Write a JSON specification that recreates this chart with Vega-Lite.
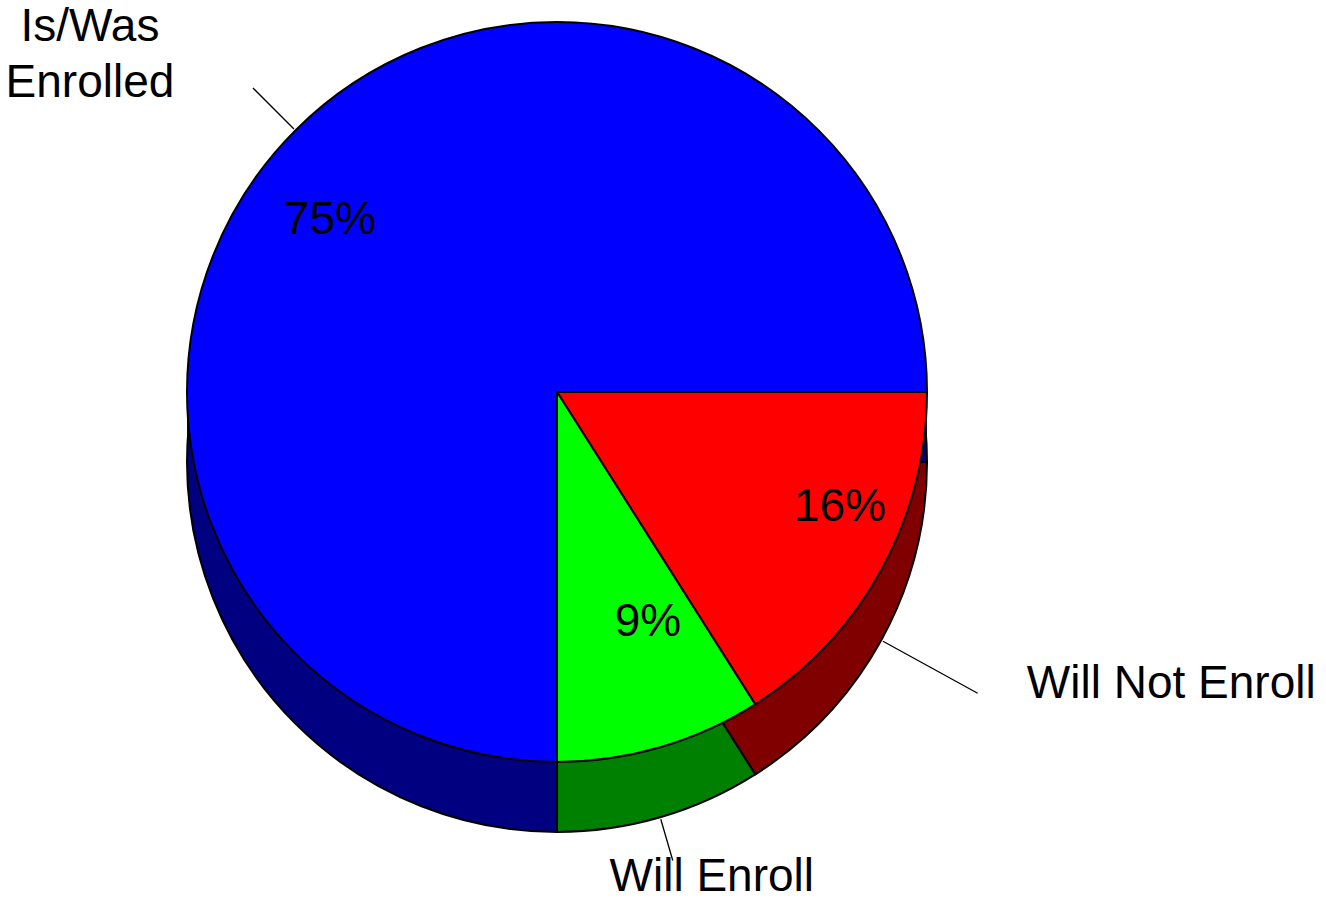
{
  "$schema": "https://vega.github.io/schema/vega-lite/v6.json",
  "width": 1114,
  "height": 784,
  "autosize": {"type": "none"},
  "padding": {"left": 0, "top": 0, "right": 212, "bottom": 117},
  "background": "white",
  "config": {"view": {"stroke": null}, "text": {"font": "Liberation Sans", "fontSize": 46, "fill": "black"}},
  "data": {"values": [
    {"cat": "Will Not Enroll", "value": 16, "order": 1, "pct": "16%"},
    {"cat": "Will Enroll", "value": 9, "order": 2, "pct": "9%"},
    {"cat": "Is/Was Enrolled", "value": 75, "order": 3, "pct": "75%"}
  ]},
  "transform": [
    {"window": [{"op": "sum", "field": "value", "as": "cum"}], "sort": [{"field": "order"}], "frame": [null, 0]},
    {"calculate": "datum.cum - datum.value", "as": "start"},
    {"calculate": "datum.cum - datum.value / 2", "as": "mid"}
  ],
  "layer": [
    {"mark": {"type": "arc", "outerRadius": 370, "yOffset": 18},
     "encoding": {
       "theta": {"field": "start", "type": "quantitative", "scale": {"domain": [0, 100], "range": [1.5708, 7.854]}},
       "theta2": {"field": "cum"},
       "fill": {"field": "cat", "type": "nominal", "scale": {"domain": ["Is/Was Enrolled", "Will Not Enroll", "Will Enroll"], "range": ["#000080", "#800000", "#008000"]}, "legend": null}}},
    {"mark": {"type": "arc", "outerRadius": 370, "yOffset": 35},
     "encoding": {
       "theta": {"field": "start", "type": "quantitative", "scale": {"domain": [0, 100], "range": [1.5708, 7.854]}},
       "theta2": {"field": "cum"},
       "fill": {"field": "cat", "type": "nominal", "scale": {"domain": ["Is/Was Enrolled", "Will Not Enroll", "Will Enroll"], "range": ["#000080", "#800000", "#008000"]}, "legend": null}}},
    {"mark": {"type": "arc", "outerRadius": 370, "yOffset": 52},
     "encoding": {
       "theta": {"field": "start", "type": "quantitative", "scale": {"domain": [0, 100], "range": [1.5708, 7.854]}},
       "theta2": {"field": "cum"},
       "fill": {"field": "cat", "type": "nominal", "scale": {"domain": ["Is/Was Enrolled", "Will Not Enroll", "Will Enroll"], "range": ["#000080", "#800000", "#008000"]}, "legend": null}}},
    {"mark": {"type": "arc", "outerRadius": 370, "yOffset": 70, "stroke": "black", "strokeWidth": 2},
     "encoding": {
       "theta": {"field": "start", "type": "quantitative", "scale": {"domain": [0, 100], "range": [1.5708, 7.854]}},
       "theta2": {"field": "cum"},
       "fill": {"field": "cat", "type": "nominal", "scale": {"domain": ["Is/Was Enrolled", "Will Not Enroll", "Will Enroll"], "range": ["#000080", "#800000", "#008000"]}, "legend": null}}},
    {"mark": {"type": "arc", "outerRadius": 370, "stroke": "black", "strokeWidth": 2},
     "encoding": {
       "theta": {"field": "start", "type": "quantitative", "scale": {"domain": [0, 100], "range": [1.5708, 7.854]}},
       "theta2": {"field": "cum"},
       "color": {"field": "cat", "type": "nominal", "scale": {"domain": ["Is/Was Enrolled", "Will Not Enroll", "Will Enroll"], "range": ["#0000FF", "#FF0000", "#00FF00"]}, "legend": null}}},
    {"transform": [{"filter": "datum.cat === 'Is/Was Enrolled'"}],
     "mark": {"type": "arc", "innerRadius": 372, "outerRadius": 430, "fill": null, "stroke": "black", "strokeWidth": 1.3},
     "encoding": {
       "theta": {"field": "mid", "type": "quantitative", "scale": {"domain": [0, 100], "range": [1.5708, 7.854]}},
       "theta2": {"field": "mid"}}},
    {"transform": [{"filter": "datum.cat === 'Will Not Enroll'"}],
     "mark": {"type": "arc", "innerRadius": 372, "outerRadius": 480, "yOffset": 70, "fill": null, "stroke": "black", "strokeWidth": 1.3},
     "encoding": {
       "theta": {"field": "mid", "type": "quantitative", "scale": {"domain": [0, 100], "range": [1.5708, 7.854]}},
       "theta2": {"field": "mid"}}},
    {"transform": [{"filter": "datum.cat === 'Will Enroll'"}],
     "mark": {"type": "arc", "innerRadius": 372, "outerRadius": 415, "yOffset": 70, "fill": null, "stroke": "black", "strokeWidth": 1.3},
     "encoding": {
       "theta": {"field": "mid", "type": "quantitative", "scale": {"domain": [0, 100], "range": [1.5708, 7.854]}},
       "theta2": {"field": "mid"}}},
    {"transform": [{"filter": "datum.cat === 'Is/Was Enrolled'"}],
     "mark": {"type": "text", "radius": 300, "dx": -15, "dy": 40, "align": "center", "baseline": "middle"},
     "encoding": {
       "theta": {"field": "mid", "type": "quantitative", "scale": {"domain": [0, 100], "range": [1.5708, 7.854]}},
       "text": {"field": "pct"}}},
    {"transform": [{"filter": "datum.cat === 'Will Not Enroll'"}],
     "mark": {"type": "text", "radius": 300, "dx": 20, "dy": -30, "align": "center", "baseline": "middle"},
     "encoding": {
       "theta": {"field": "mid", "type": "quantitative", "scale": {"domain": [0, 100], "range": [1.5708, 7.854]}},
       "text": {"field": "pct"}}},
    {"transform": [{"filter": "datum.cat === 'Will Enroll'"}],
     "mark": {"type": "text", "radius": 240, "dx": 24, "dy": 0, "align": "center", "baseline": "middle"},
     "encoding": {
       "theta": {"field": "mid", "type": "quantitative", "scale": {"domain": [0, 100], "range": [1.5708, 7.854]}},
       "text": {"field": "pct"}}},
    {"transform": [{"filter": "datum.cat === 'Is/Was Enrolled'"}],
     "mark": {"type": "text", "radius": 430, "dx": -163, "dy": -61, "align": "center", "baseline": "middle", "lineBreak": " ", "lineHeight": 56},
     "encoding": {
       "theta": {"field": "mid", "type": "quantitative", "scale": {"domain": [0, 100], "range": [1.5708, 7.854]}},
       "text": {"field": "cat"}}},
    {"transform": [{"filter": "datum.cat === 'Will Not Enroll'"}],
     "mark": {"type": "text", "radius": 470, "yOffset": 70, "dx": 58, "dy": -4, "align": "left", "baseline": "middle"},
     "encoding": {
       "theta": {"field": "mid", "type": "quantitative", "scale": {"domain": [0, 100], "range": [1.5708, 7.854]}},
       "text": {"field": "cat"}}},
    {"transform": [{"filter": "datum.cat === 'Will Enroll'"}],
     "mark": {"type": "text", "radius": 415, "yOffset": 70, "dx": 39, "dy": 16, "align": "center", "baseline": "middle"},
     "encoding": {
       "theta": {"field": "mid", "type": "quantitative", "scale": {"domain": [0, 100], "range": [1.5708, 7.854]}},
       "text": {"field": "cat"}}}
  ]
}
